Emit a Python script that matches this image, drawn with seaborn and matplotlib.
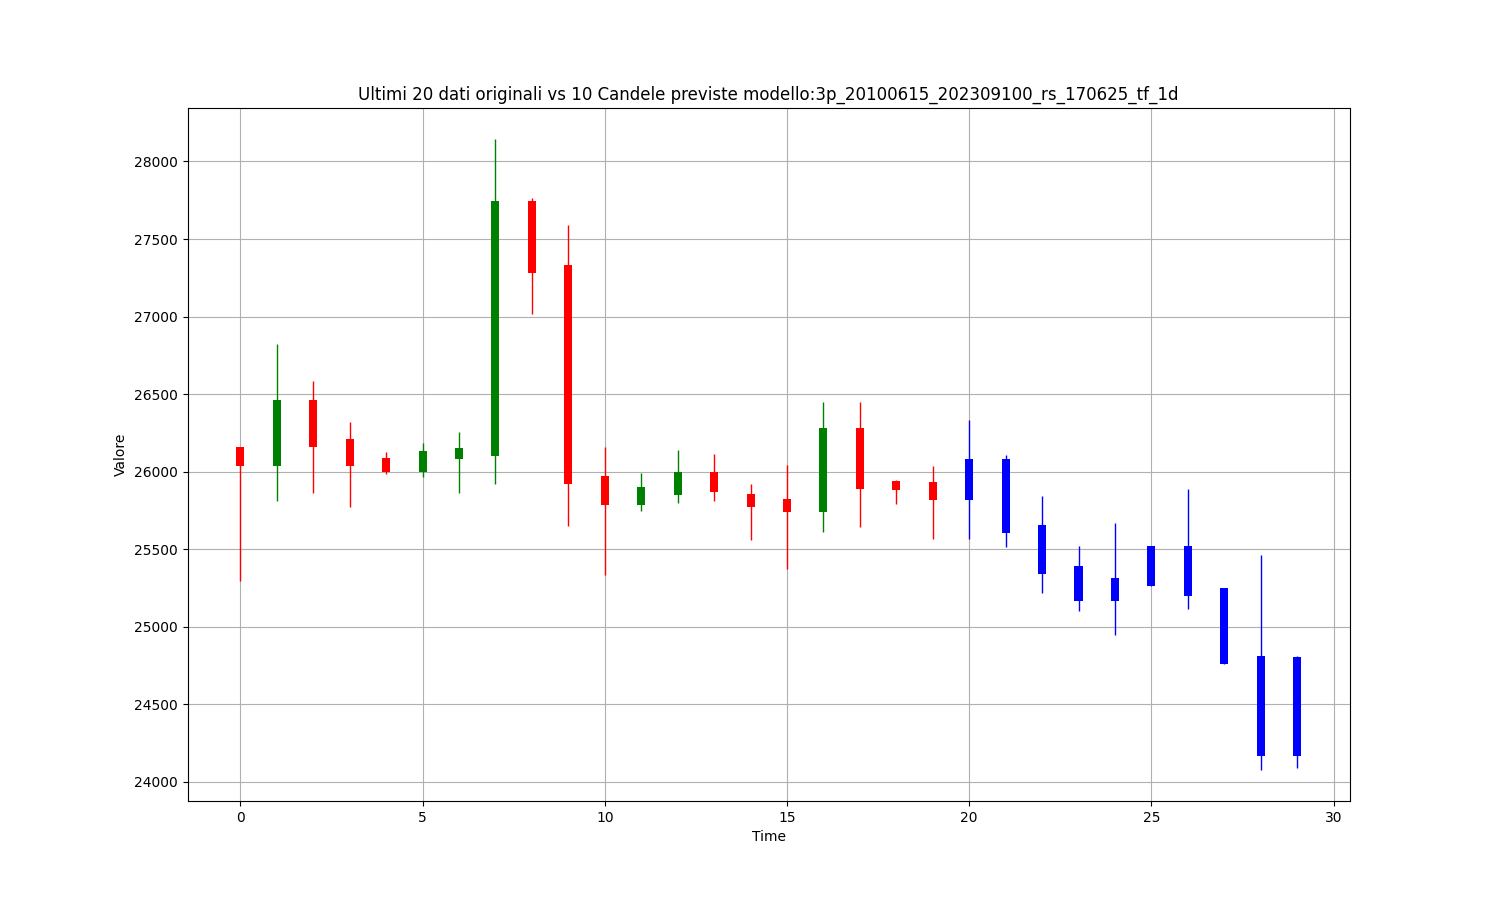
import matplotlib
matplotlib.use("Agg")
import matplotlib.pyplot as plt
import seaborn as sns
import numpy as np

# Original candles (20) and forecast candles (10)
time = list(range(30))
opens = [26160, 26037, 26461, 26209, 26087, 25999, 26080, 26102, 27744, 27332,
         25971, 25784, 25849, 25999, 25855, 25823, 25739, 26280, 25941, 25932,
         26080, 26080, 25655, 25391, 25314, 25520, 25520, 25250, 24812, 24807]
closes = [26037, 26461, 26160, 26037, 25999, 26132, 26151, 27744, 27279, 25919,
          25784, 25900, 25999, 25868, 25771, 25739, 26280, 25889, 25881, 25816,
          25816, 25606, 25342, 25168, 25168, 25262, 25198, 24760, 24163, 24163]
highs = [26160, 26821, 26585, 26321, 26128, 26184, 26254, 28142, 27766, 27588,
         26158, 25990, 26138, 26113, 25919, 26042, 26448, 26448, 25947, 26035,
         26332, 26108, 25844, 25522, 25668, 25520, 25887, 25250, 25464, 24814]
lows = [25297, 25812, 25861, 25773, 25984, 25967, 25861, 25919, 27019, 25651,
        25335, 25746, 25797, 25810, 25559, 25372, 25610, 25644, 25791, 25565,
        25565, 25516, 25217, 25101, 24947, 25262, 25114, 24760, 24079, 24090]
n_original = 20

title = "Ultimi 20 dati originali vs 10 Candele previste modello:3p_20100615_202309100_rs_170625_tf_1d"

sns.set_style("whitegrid", rc={
    "axes.edgecolor": "black",
    "axes.linewidth": 0.8,
    "grid.color": "#b0b0b0",
    "grid.linewidth": 0.8,
    "grid.linestyle": "-",
    "xtick.bottom": True,
    "ytick.left": True,
    "xtick.color": "black",
    "ytick.color": "black",
    "axes.labelcolor": "black",
    "text.color": "black",
})
plt.rcParams["font.family"] = ["DejaVu Sans"]

fig, ax = plt.subplots(figsize=(15, 9), dpi=100)
fig.subplots_adjust(left=0.125, right=0.9, top=0.88, bottom=0.11)

colors = []
for i in range(len(time)):
    if i >= n_original:
        colors.append("blue")
    elif closes[i] >= opens[i]:
        colors.append("green")
    else:
        colors.append("red")

x = np.array(time)
o = np.array(opens)
c = np.array(closes)
ax.vlines(x, lows, highs, colors=colors, linewidth=1, zorder=2)
ax.bar(x, np.abs(c - o), bottom=np.minimum(o, c), width=0.22,
       color=colors, linewidth=0, zorder=3)

ax.set_xlim(-1.45, 30.45)
ax.set_ylim(23876, 28345)
ax.set_xticks([0, 5, 10, 15, 20, 25, 30])
ax.set_yticks([24000, 24500, 25000, 25500, 26000, 26500, 27000, 27500, 28000])
ax.grid(True)
ax.set_axisbelow(True)
ax.tick_params(labelsize=10, length=3.5, width=0.8)
ax.set_title(title, fontsize=12)
ax.set_xlabel("Time", fontsize=10)
ax.set_ylabel("Valore", fontsize=10)

fig.savefig("out.png", dpi=100)
